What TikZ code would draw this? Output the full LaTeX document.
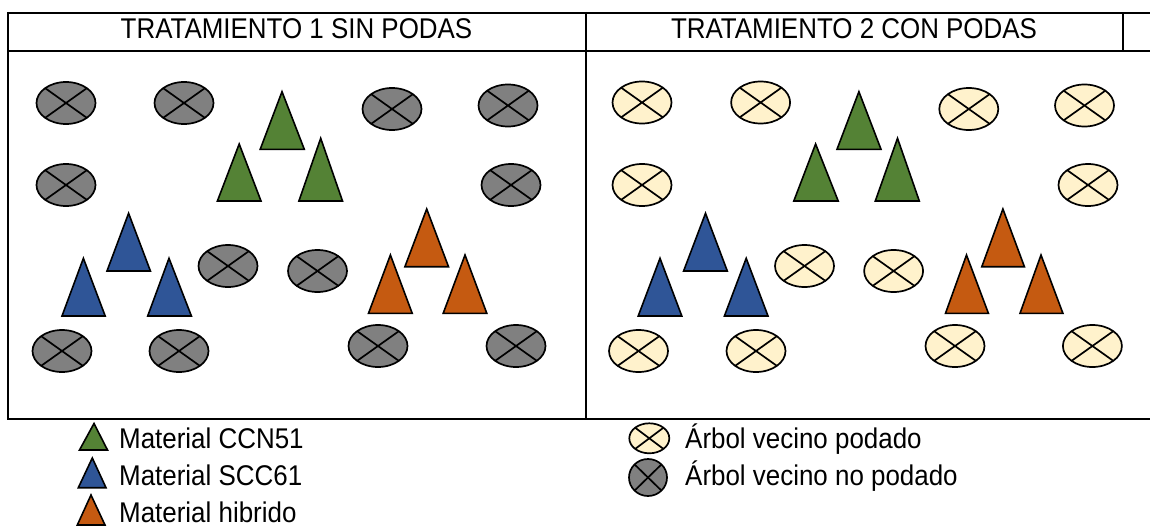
\documentclass[tikz,border=0pt]{standalone}
\usepackage{fontspec}
\setmainfont[FakeStretch=0.91]{Liberation Sans}
\usetikzlibrary{shapes.geometric}
\definecolor{grn}{HTML}{548235}
\definecolor{blu}{HTML}{2F5597}
\definecolor{org}{HTML}{C55A11}
\definecolor{gry}{HTML}{808080}
\definecolor{crm}{HTML}{FFF2CC}
\tikzset{
  frame/.style={line width=2pt},
  trishape/.style={draw=black, line width=1.6pt, line join=miter},
  tree/.style={ellipse, draw=black, fill=#1, line width=1.7pt, inner sep=0pt,
    minimum width=59pt, minimum height=42pt,
    path picture={\draw[line width=1.7pt]
      (path picture bounding box.north west) -- (path picture bounding box.south east)
      (path picture bounding box.north east) -- (path picture bounding box.south west);}},
  head/.style={font=\fontsize{28.5}{33}\selectfont, anchor=base, inner sep=0pt},
  leg/.style={font=\fontsize{28.5}{33}\selectfont, anchor=base west, inner sep=0pt},
}
\newcommand\mytri[6]{\draw[trishape,fill=#1] (#4,#6) -- (#2,#3) -- (#5,#6) -- cycle;}
\begin{document}
\begin{tikzpicture}[x=1pt,y=-1pt]
\useasboundingbox (0,0) rectangle (1150,527);
% table
\draw[frame] (8,13) -- (1150,13);
\draw[frame] (8,51.5) -- (1150,51.5);
\draw[frame] (8,419) -- (1150,419);
\draw[frame] (8,12) -- (8,420);
\draw[frame] (586,12) -- (586,420);
\draw[frame] (1122.5,13) -- (1122.5,51.5);
\node[head] (h1) at (296.5,39) {TRATAMIENTO 1 SIN PODAS};
\node[head] (h2) at (854,39) {TRATAMIENTO 2 CON PODAS};
% left panel trees
\node[tree=gry] (a1) at (66,103) {};
\node[tree=gry] (a2) at (184,103) {};
\node[tree=gry] (a3) at (392,109) {};
\node[tree=gry] (a4) at (508,105.5) {};
\node[tree=gry] (a5) at (66,185) {};
\node[tree=gry] (a6) at (511,185) {};
\node[tree=gry] (a7) at (228,266) {};
\node[tree=gry] (a8) at (317.5,271) {};
\node[tree=gry] (a9) at (62,351) {};
\node[tree=gry] (a10) at (179,351) {};
\node[tree=gry] (a11) at (378,346) {};
\node[tree=gry] (a12) at (516,346) {};
% right panel trees
\node[tree=crm] (b1) at (642,102.5) {};
\node[tree=crm] (b2) at (760.6,102.5) {};
\node[tree=crm] (b3) at (968.8,109) {};
\node[tree=crm] (b4) at (1084.5,105.5) {};
\node[tree=crm] (b5) at (642,185) {};
\node[tree=crm] (b6) at (1088,185) {};
\node[tree=crm] (b7) at (804.5,266) {};
\node[tree=crm] (b8) at (893.6,271) {};
\node[tree=crm] (b9) at (638.5,351) {};
\node[tree=crm] (b10) at (756,351) {};
\node[tree=crm] (b11) at (955,346) {};
\node[tree=crm] (b12) at (1092.4,346) {};
% left panel triangles
\mytri{grn}{282}{91.7}{260.2}{304.3}{149.3}
\mytri{grn}{239.2}{144}{217.4}{261}{201}
\mytri{grn}{320.7}{138.3}{298.9}{342.5}{201}
\mytri{blu}{128.6}{213.3}{107}{150.4}{271}
\mytri{blu}{83.4}{258.3}{62}{105.2}{316}
\mytri{blu}{169}{258.3}{147.7}{191.4}{316}
\mytri{org}{426.7}{209}{404.9}{448.5}{266.7}
\mytri{org}{390.4}{255}{368.5}{412.2}{313.3}
\mytri{org}{465}{255}{443.2}{486.8}{313.3}
% right panel triangles
\mytri{grn}{858.9}{91.7}{837}{881}{149.3}
\mytri{grn}{815.6}{144}{793.8}{838.2}{201}
\mytri{grn}{897.5}{138.3}{875.3}{919.3}{201}
\mytri{blu}{705.5}{213.3}{683.6}{727.3}{271}
\mytri{blu}{660}{258.3}{638.2}{681.8}{316}
\mytri{blu}{746.2}{258.3}{724.4}{768}{316}
\mytri{org}{1002.9}{209}{981.8}{1024.4}{266.7}
\mytri{org}{966.5}{255}{945.5}{988.4}{313.3}
\mytri{org}{1041}{255}{1020}{1062.9}{313.3}
% legend
\mytri{grn}{94}{423.5}{79.5}{107.5}{450}
\mytri{blu}{92.3}{458}{78.3}{106}{487.7}
\mytri{org}{91}{495}{77.3}{105}{525}
\node[leg] (l1) at (119,448.5) {Material CCN51};
\node[leg] (l2) at (119,485.5) {Material SCC61};
\node[leg] (l3) at (119,522) {Material hibrido};
\node[tree=crm, minimum width=40pt, minimum height=30pt] (k1) at (649.3,438.3) {};
\node[tree=gry, minimum width=38pt, minimum height=37pt] (k2) at (648,477.5) {};
\node[leg] (l4) at (685,448.5) {Árbol vecino podado};
\node[leg] (l5) at (685,485.5) {Árbol vecino no podado};
\end{tikzpicture}
\end{document}
